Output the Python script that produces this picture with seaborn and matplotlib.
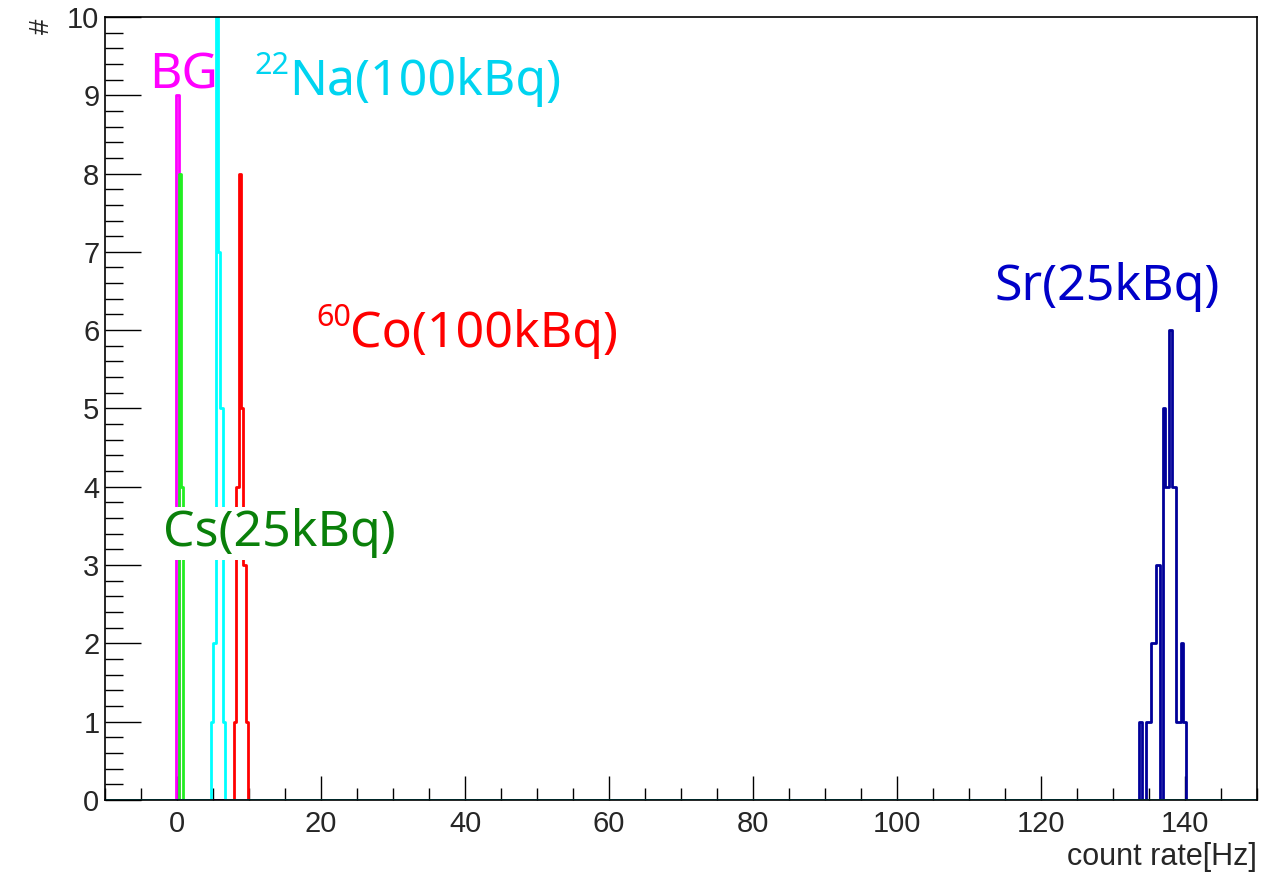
import numpy as np
import pandas as pd
import seaborn as sns
import matplotlib.pyplot as plt
from matplotlib.ticker import MultipleLocator

# histogram binning: 500 bins from -10 to 150 Hz
bin_w = 0.32
x_range = (-10, 150)

# lower bin edge [Hz] and entries per source
bg_bins = [-0.08]
bg_counts = [9]
cs_bins = [0.24, 0.56]
cs_counts = [8, 4]
co_bins = [7.92, 8.24, 8.56, 8.88, 9.20, 9.52]
co_counts = [1, 4, 8, 5, 3, 1]
sr_bins = [133.68, 134.64, 134.96, 135.28, 135.60, 135.92, 136.24, 136.88, 137.20,
           137.52, 137.84, 138.16, 138.48, 138.80, 139.12, 139.44, 139.76]
sr_counts = [1, 1, 1, 2, 2, 3, 3, 5, 4, 4, 6, 4, 4, 1, 1, 2, 1]
na_bins = [4.72, 5.04, 5.36, 5.68, 6.00, 6.32]
na_counts = [1, 2, 10, 7, 5, 1]

sns.set_style("ticks")
plt.rcParams["font.family"] = ["Liberation Sans", "DejaVu Sans"]

fig = plt.figure(figsize=(12.61, 8.72), dpi=100)
ax = fig.add_axes([0.0833, 0.0826, 0.9135, 0.898])

hists = [
    (bg_bins, bg_counts, "#ff00ff"),
    (cs_bins, cs_counts, "#22ee22"),
    (co_bins, co_counts, "#ff0000"),
    (sr_bins, sr_counts, "#000099"),
    (na_bins, na_counts, "#00ffff"),
]
for b, c, col in hists:
    df = pd.DataFrame({"rate": np.array(b) + bin_w / 2, "n": c})
    sns.histplot(data=df, x="rate", weights="n", binwidth=bin_w, binrange=x_range,
                 element="step", fill=False, color=col, linewidth=2, ax=ax)

ax.set_xlim(-10, 150)
ax.set_ylim(0, 10)
ax.xaxis.set_major_locator(MultipleLocator(20))
ax.xaxis.set_minor_locator(MultipleLocator(5))
ax.yaxis.set_major_locator(MultipleLocator(1))
ax.yaxis.set_minor_locator(MultipleLocator(0.2))
ax.tick_params(axis="both", which="both", direction="in", width=1, color="black",
               labelsize=21, top=False, right=False)
ax.tick_params(axis="x", which="major", length=17, pad=7)
ax.tick_params(axis="x", which="minor", length=8.5)
ax.tick_params(axis="y", which="major", length=26, pad=4)
ax.tick_params(axis="y", which="minor", length=13)
for s in ax.spines.values():
    s.set_color("black")
    s.set_linewidth(1.2)

ax.set_xlabel("count rate[Hz]", fontsize=22, loc="right", labelpad=3)
ax.set_ylabel("#", fontsize=20)
ax.yaxis.set_label_coords(-0.066, 0.988)
ax.yaxis.label.set_va("top")

fam = ["Noto Sans", "DejaVu Sans"]
lab = dict(family=fam, fontsize=36, va="baseline")
sup = dict(family=fam, fontsize=22, va="baseline")
ax.text(-3.9, 9.09, "BG", color="#ff00ff", **lab)
ax.text(10.8, 9.27, "22", color="#00d4f0", **sup)
ax.text(15.6, 9.0, "Na(100kBq)", color="#00d4f0", **lab)
ax.text(19.3, 6.05, "60", color="#ff0000", **sup)
ax.text(24.0, 5.79, "Co(100kBq)", color="#ff0000", **lab)
ax.text(-2.0, 3.24, "Cs(25kBq)", color="#0a800a",
        bbox=dict(facecolor="white", edgecolor="none", pad=1), **lab)
ax.text(113.5, 6.39, "Sr(25kBq)", color="#0000c8", **lab)

fig.savefig("out.png", dpi=100)
